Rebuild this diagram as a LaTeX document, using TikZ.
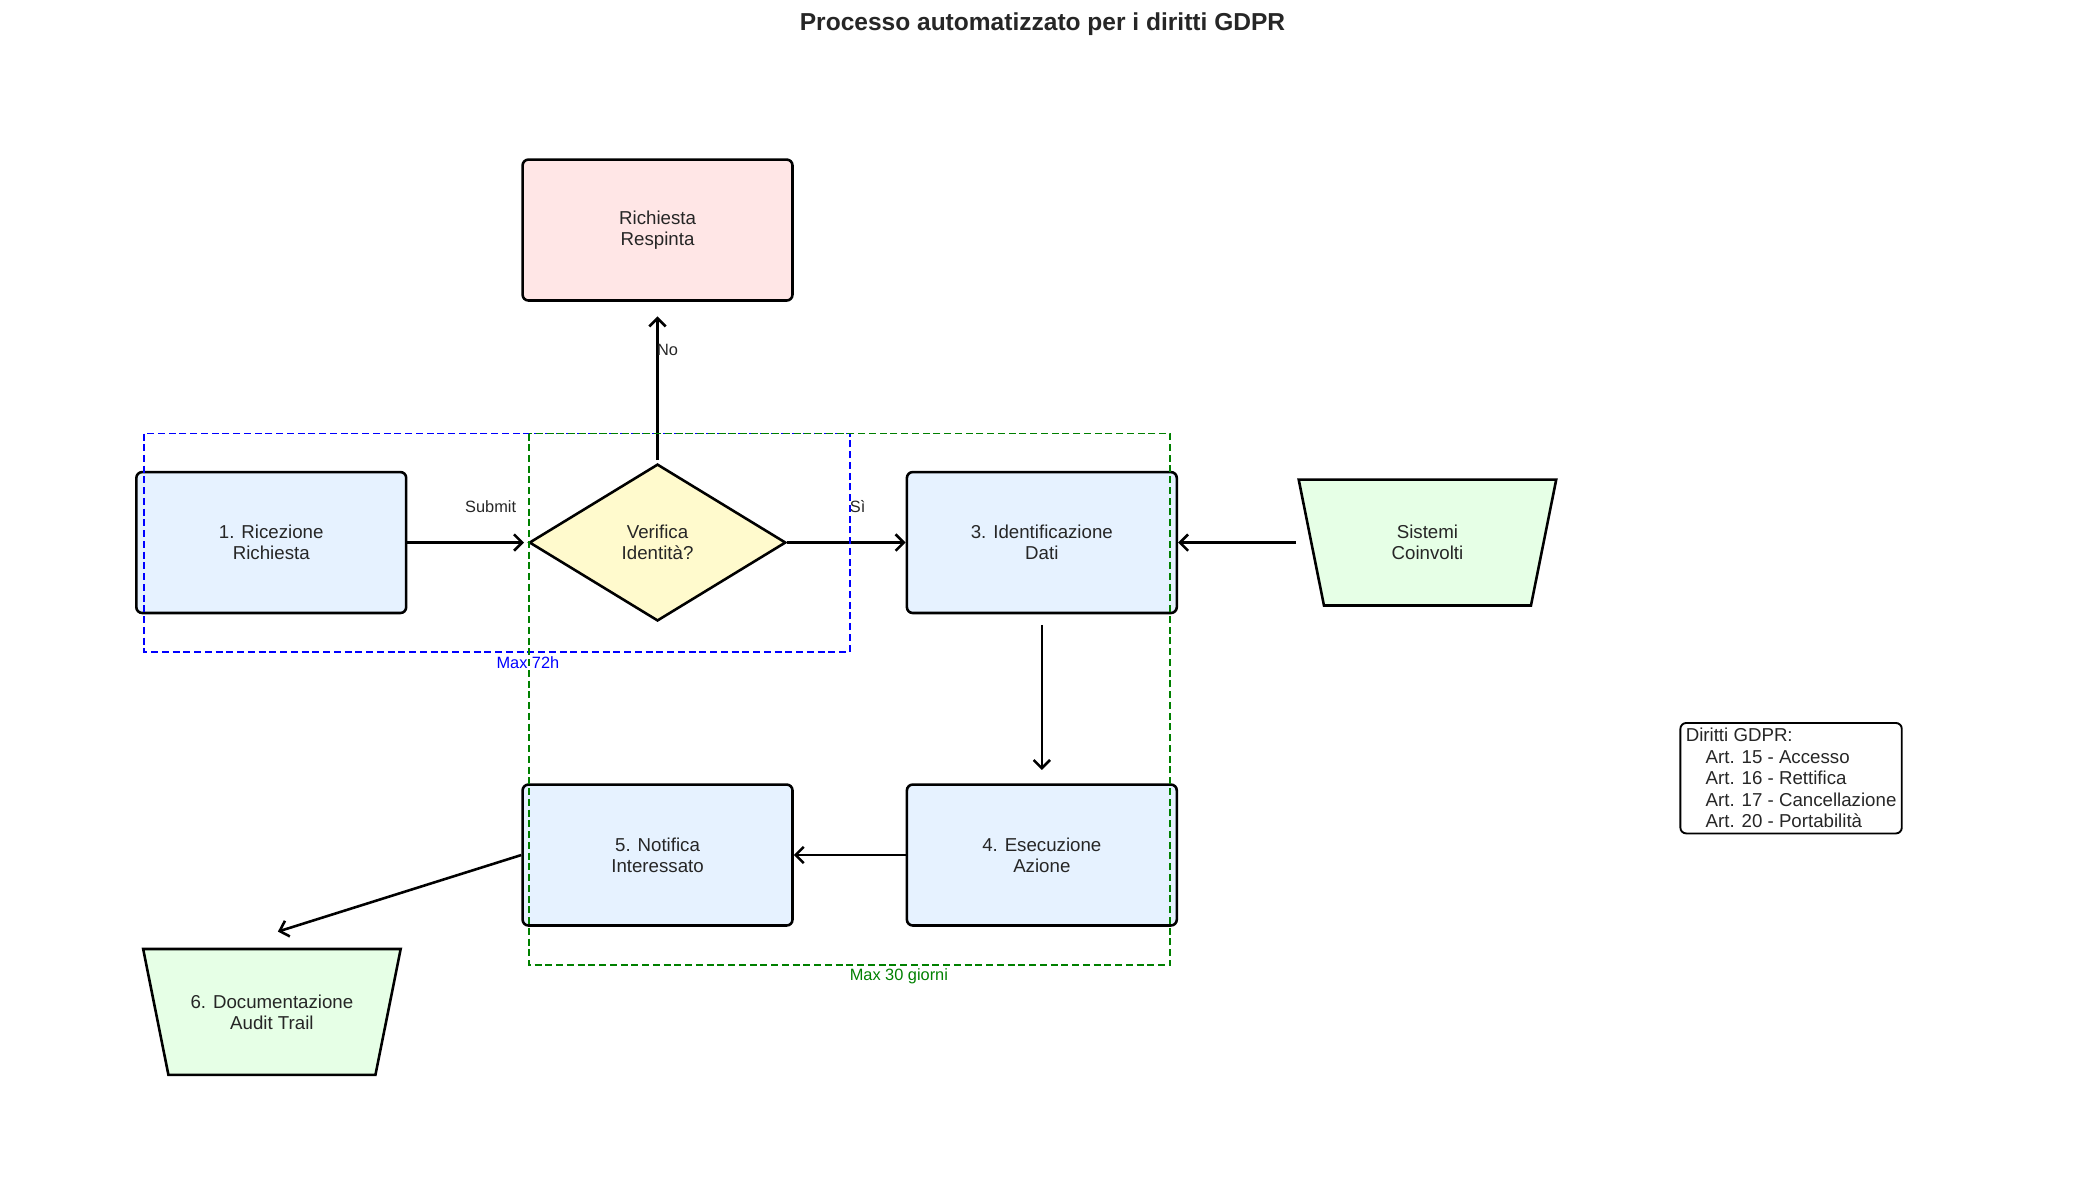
\documentclass[tikz,border=0pt]{standalone}
\usepackage{fontspec}
\setmainfont{Liberation Sans}
\usetikzlibrary{shapes.geometric,arrows.meta,calc,backgrounds}
\definecolor{txt}{HTML}{262626}
\definecolor{boxblue}{HTML}{E6F2FF}
\definecolor{rejred}{HTML}{FFE6E6}
\definecolor{diayel}{HTML}{FFFACD}
\definecolor{trapgreen}{HTML}{E6FFE6}
\definecolor{grn}{HTML}{008000}
\begin{document}
\begin{tikzpicture}[x=0.02cm,y=-0.02cm,
  every node/.style={text=txt},
  proc/.style={draw=black, line width=1.1pt, rounded corners=2.5pt, fill=boxblue,
    minimum width=4.06cm, minimum height=2.12cm, inner sep=0pt, align=center,
    font=\fontsize{8}{9}\selectfont},
  rejbox/.style={proc, fill=rejred},
  decision/.style={shape=diamond, draw=black, line width=1.1pt, fill=diayel,
    minimum width=3.86cm, minimum height=2.36cm, inner sep=0pt, align=center,
    font=\fontsize{8}{9}\selectfont},
  trapbox/.style={minimum width=3.86cm, minimum height=1.88cm, inner sep=0pt,
    align=center, font=\fontsize{8}{9}\selectfont},
  trapline/.style={draw=black, line width=1.1pt, fill=trapgreen},
  arr/.style={-{Straight Barb[length=3.5pt,width=7pt]}, line width=1.1pt},
  lbl/.style={font=\fontsize{7}{8}\selectfont},
  zone/.style={dashed, dash pattern=on 3pt off 1.6pt, line width=0.8pt}
]
\path[use as bounding box] (0,0) rectangle (1568,890);

\node[font=\fontsize{10.5}{12}\selectfont\bfseries] (title) at (784,18) {Processo automatizzato per i diritti GDPR};

\node[rejbox] (rej) at (494.5,173) {Richiesta\\Respinta};
\node[proc] (b1) at (204,408) {1. Ricezione\\Richiesta};
\node[decision] (dia) at (494.5,408) {Verifica\\Identità?};
\node[proc] (b3) at (783.5,408) {3. Identificazione\\Dati};
\node[trapbox] (sis) at (1073.5,408) {Sistemi\\Coinvolti};
\node[proc] (b4) at (783.5,643) {4. Esecuzione\\Azione};
\node[proc] (b5) at (494.5,643) {5. Notifica\\Interessato};
\node[trapbox] (doc) at (204.5,761) {6. Documentazione\\Audit Trail};

\begin{scope}[on background layer]
\draw[trapline] (sis.north west) -- (sis.north east) -- ([xshift=-0.38cm]sis.south east) -- ([xshift=0.38cm]sis.south west) -- cycle;
\draw[trapline] (doc.north west) -- (doc.north east) -- ([xshift=-0.38cm]doc.south east) -- ([xshift=0.38cm]doc.south west) -- cycle;
\end{scope}

\node[draw=black, line width=0.8pt, rounded corners=2.5pt, anchor=north west,
  align=left, inner sep=2.3pt, font=\fontsize{8}{9.2}\selectfont] (leg) at (1263,543)
  {Diritti GDPR:\\\hspace*{8.5pt}Art. 15 - Accesso\\\hspace*{8.5pt}Art. 16 - Rettifica\\\hspace*{8.5pt}Art. 17 - Cancellazione\\\hspace*{8.5pt}Art. 20 - Portabilità};

\draw[arr, shorten >=0.06cm] (b1.east) -- (dia.west);
\draw[arr] (dia.east) -- (b3.west);
\draw[arr, shorten <=0.04cm, shorten >=0.22cm] (dia.north) -- (rej.south);
\draw[arr, shorten <=0.04cm] (sis.west) -- (b3.east);
\draw[arr, shorten <=0.16cm, shorten >=0.2cm] (b3.south) -- (b4.north);
\draw[arr] (b4.west) -- (b5.east);
\draw[arr, shorten >=0.094cm] (b5.west) -- ($(doc.center)+(0,-59)$);

\node[lbl] (lsub) at (369,381) {Submit};
\node[lbl] (lsi) at (645,381) {Sì};
\node[lbl] (lno) at (502,263) {No};

\draw[zone, blue] (108,326) rectangle (639,490);
\draw[zone, grn] (398,326) rectangle (880,726);
\node[lbl, text=blue] (l72) at (397,498) {Max 72h};
\node[lbl, text=grn] (l30) at (676,734) {Max 30 giorni};
\end{tikzpicture}
\end{document}
